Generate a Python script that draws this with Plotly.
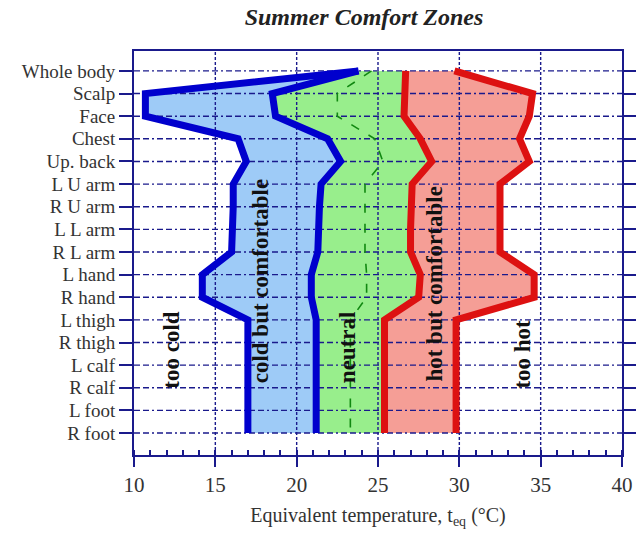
import plotly.graph_objects as go

# ---------------- data ----------------
body_parts = ["Whole body", "Scalp", "Face", "Chest", "Up. back", "L U arm", "R U arm",
              "L L arm", "R L arm", "L hand", "R hand", "L thigh", "R thigh",
              "L calf", "R calf", "L foot", "R foot"]

too_cold_limit = [23.8, 10.7, 10.7, 16.4, 16.9, 16.1, 16.1, 16.1, 16.0, 14.2, 14.2,
                  17.0, 17.0, 17.0, 17.0, 17.0, 17.0]
cold_comfort_limit = [23.8, 18.5, 18.7, 21.9, 22.7, 21.5, 21.4, 21.3, 21.3, 20.9, 20.9,
                      21.2, 21.2, 21.2, 21.2, 21.2, 21.2]
neutral_line = [24.6, 22.5, 22.5, 24.8, 25.3, 24.2, 24.2, 24.2, 24.2, 24.3, 24.3,
                23.3, 23.3, 23.3, 23.3, 23.3, 23.3]
hot_comfort_limit = [26.7, 26.6, 26.6, 27.6, 28.3, 27.1, 27.0, 27.0, 27.0, 27.6, 27.5,
                     25.4, 25.4, 25.4, 25.4, 25.4, 25.4]
too_hot_limit = [29.7, 34.5, 34.3, 33.7, 34.3, 32.5, 32.5, 32.5, 32.5, 34.6, 34.6,
                 29.8, 29.8, 29.8, 29.8, 29.8, 29.8]

zone_names = ["too cold", "cold but comfortable", "neutral", "hot but comfortable", "too hot"]
zone_label_x = [12.3, 17.8, 23.1, 28.5, 33.9]
zone_label_y = [12.3, 9.3, 12.2, 9.4, 12.5]

x_ticks = [10, 15, 20, 25, 30, 35, 40]
x_grid = [15, 20, 25, 30, 35]

# ---------------- figure ----------------
idx = list(range(len(body_parts)))
x_range = [10, 40]
y_range = [16.97, -0.88]

NAVY = "#1a1a8c"
SERIF = "Liberation Serif, Times New Roman, serif"

fig = go.Figure()

def band(left, right, color):
    fig.add_trace(go.Scatter(
        x=list(left) + list(right)[::-1],
        y=idx + idx[::-1],
        mode="lines", fill="toself", fillcolor=color,
        line=dict(width=0, color=color), hoverinfo="skip", showlegend=False))

band(too_cold_limit, cold_comfort_limit, "#9ecbf7")
band(cold_comfort_limit, hot_comfort_limit, "#98ee8c")
band(hot_comfort_limit, too_hot_limit, "#f59e96")

# grid lines (drawn above the fills)
gx, gy = [], []
for i in idx:
    gx += [x_range[0], x_range[1], None]
    gy += [i, i, None]
fig.add_trace(go.Scatter(x=gx, y=gy, mode="lines",
                         line=dict(color=NAVY, width=1.4, dash="6px,3px,6px,3px,2px,3px"),
                         hoverinfo="skip", showlegend=False))
vx, vy = [], []
for v in x_grid:
    vx += [v, v, None]
    vy += [y_range[0], y_range[1], None]
fig.add_trace(go.Scatter(x=vx, y=vy, mode="lines",
                         line=dict(color=NAVY, width=1.4, dash="3px,2px"),
                         hoverinfo="skip", showlegend=False))

# neutral dashed line
fig.add_trace(go.Scatter(x=neutral_line, y=idx, mode="lines",
                         line=dict(color="#118811", width=1.6, dash="9px,11px"),
                         hoverinfo="skip", showlegend=False))

# boundary lines
for xs, col in [(too_cold_limit, "#0000cd"), (cold_comfort_limit, "#0000cd"),
                (hot_comfort_limit, "#dd1111"), (too_hot_limit, "#dd1111")]:
    fig.add_trace(go.Scatter(x=xs, y=idx, mode="lines",
                             line=dict(color=col, width=7),
                             hoverinfo="skip", showlegend=False))

for name, zx, zy in zip(zone_names, zone_label_x, zone_label_y):
    fig.add_annotation(x=zx, y=zy, xref="x", yref="y", text="<b>" + name + "</b>",
                       textangle=-90, showarrow=False,
                       font=dict(family=SERIF, size=23, color="#111111"))

fig.update_layout(
    width=636, height=535,
    margin=dict(l=134, r=14, t=51, b=80),
    paper_bgcolor="white", plot_bgcolor="white",
    title=dict(text="<b><i>Summer Comfort Zones</i></b>", x=364 / 636, xanchor="center",
               y=1 - 17 / 535, yanchor="middle",
               font=dict(family=SERIF, size=24, color="#222222")),
    xaxis=dict(range=x_range, tickvals=x_ticks, ticks="outside", ticklen=10,
               tickwidth=2, tickcolor=NAVY, automargin=False,
               minor=dict(ticks="inside", ticklen=5, dtick=1, tickcolor=NAVY, tickwidth=1.5),
               showline=True, linecolor=NAVY, linewidth=2, mirror=True,
               showgrid=False, zeroline=False,
               tickfont=dict(family=SERIF, size=21, color="#333333"),
               title=dict(text="Equivalent temperature, t<sub>eq</sub> (°C)",
                          font=dict(family=SERIF, size=20, color="#333333"), standoff=12)),
    yaxis=dict(range=y_range, tickvals=idx, ticktext=body_parts, ticks="outside",
               ticklen=13, tickwidth=1.5, tickcolor=NAVY, automargin=False,
               showline=True, linecolor=NAVY, linewidth=2, mirror="ticks",
               showgrid=False, zeroline=False,
               tickfont=dict(family=SERIF, size=19, color="#333333")),
)

fig.write_html("out.html", config={"displayModeBar": False},
               post_script="document.body.style.margin='0px';document.body.style.overflow='hidden';")
